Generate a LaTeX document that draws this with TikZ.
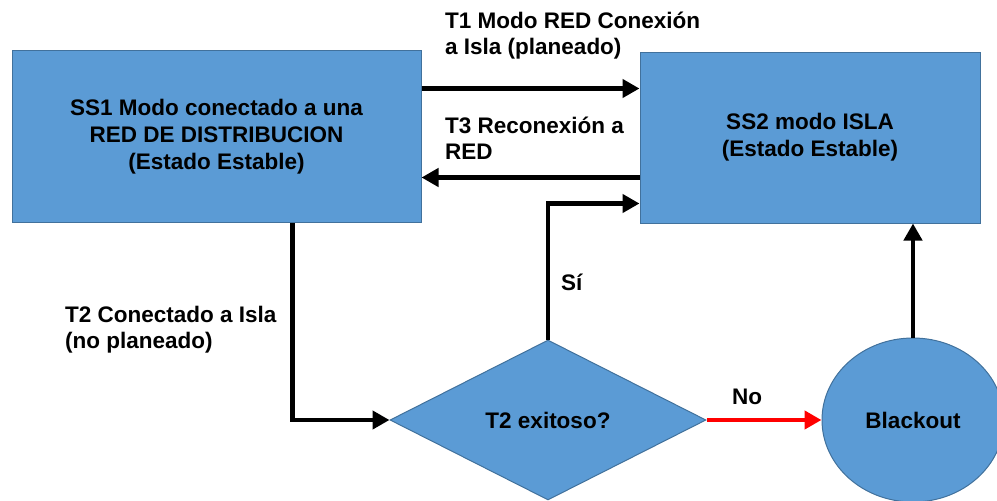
\documentclass[tikz,border=0pt]{standalone}
\usepackage{fontspec}
\setmainfont{Liberation Sans}
\usetikzlibrary{shapes.geometric,arrows.meta,positioning}
\definecolor{azul}{HTML}{5B9BD5}
\definecolor{bordeazul}{HTML}{41719C}
\tikzset{
	estado/.style={rectangle,draw=bordeazul,fill=azul,line width=1pt,align=center,font=\bfseries\fontsize{22.5}{27}\selectfont},
	decision/.style={diamond,draw=bordeazul,fill=azul,line width=1pt,inner sep=0pt,minimum width=316pt,minimum height=160pt,font=\bfseries\fontsize{22.5}{27}\selectfont},
	falla/.style={ellipse,draw=bordeazul,fill=azul,line width=1pt,inner sep=0pt,minimum width=182pt,minimum height=164pt,font=\bfseries\fontsize{22.5}{27}\selectfont},
	etiqueta/.style={font=\bfseries\fontsize{22.5}{26}\selectfont,align=left,inner sep=0pt,anchor=north west},
	flecha/.style={->,line width=4.5pt}
}

\begin{document}
\begin{tikzpicture}[x=1pt,y=-1pt,>={Triangle[length=17pt,width=18pt]}]
		\clip (0,0) rectangle (997,501);
		\node[estado,minimum width=409pt,minimum height=172pt](ss1) at (216.5,136.5) {SS1 Modo conectado a una\\RED DE DISTRIBUCION\\(Estado Estable)};
		\node[estado,minimum width=340pt,minimum height=171pt](ss2) at (810,137.5) {SS2 modo ISLA\\(Estado Estable)};
		\node[decision](dec) at (548,420) {T2 exitoso?};
		\node[falla](bo) at (913,420) {Blackout};
		% puntos de salida de las transiciones
		\coordinate (t1) at ([yshift=48pt]ss1.east);
		\coordinate (t3) at ([yshift=-40pt]ss2.west);
		\coordinate (si) at ([yshift=-66pt]ss2.west);
		\coordinate (t2) at ([xshift=76pt]ss1.south);
		\path[flecha]
		(t1) edge (t1 -| ss2.west)
		(t3) edge (t3 -| ss1.east)
		(dec.east) edge [red] (bo.west)
		(bo.north) edge (bo.north |- ss2.south);
		\draw[flecha] (dec.north) |- (si);
		\draw[flecha] (t2) |- (dec.west);
		% textos de las transiciones
		\node[etiqueta](lt1) at (445,12) {T1 Modo RED Conexión\\a Isla (planeado)};
		\node[etiqueta](lt3) at (445,117) {T3 Reconexión a\\RED};
		\node[etiqueta](lt2) at (65,306) {T2 Conectado a Isla\\(no planeado)};
		\node[etiqueta](lsi) at (561,274) {Sí};
		\node[etiqueta](lno) at (732,389) {No};
\end{tikzpicture}
\end{document}
